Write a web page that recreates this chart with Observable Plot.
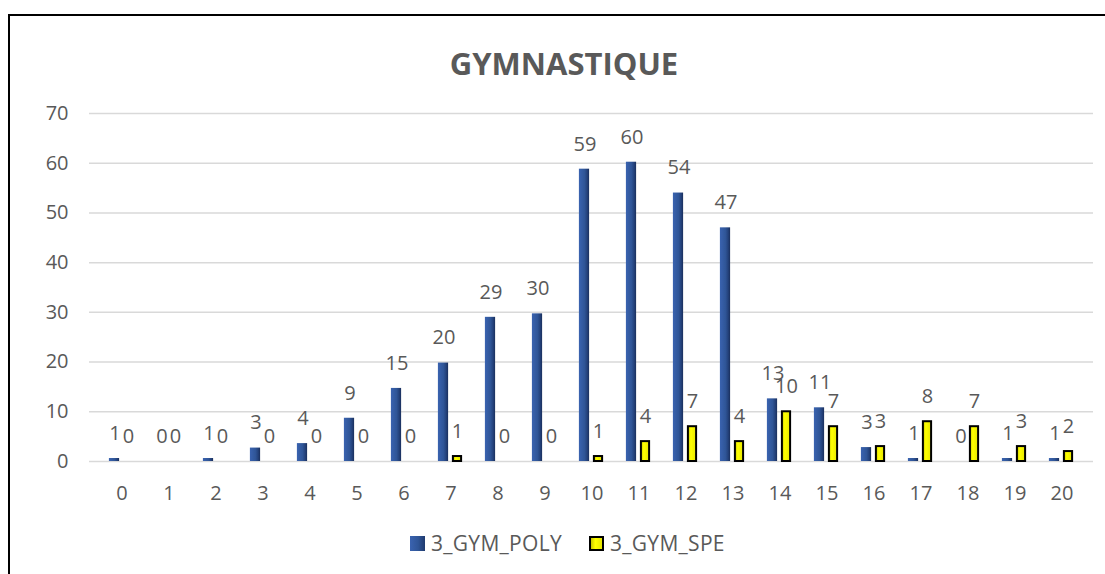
<!DOCTYPE html>
<html>
<head>
<meta charset="utf-8">
<script src="https://cdn.jsdelivr.net/npm/d3@7"></script>
<script src="https://cdn.jsdelivr.net/npm/@observablehq/plot@0.6"></script>
<style>
  html, body { margin: 0; padding: 0; background: #fff; }
  body { width: 1105px; height: 574px; overflow: hidden; position: relative; font-family: "Open Sans", sans-serif; }
  #frame { position: absolute; left: 8px; top: 14px; width: 1200px; height: 700px; border: 2px solid #000; box-sizing: border-box; }
  #title { position: absolute; left: 0; width: 1128px; top: 43px; text-align: center; font-weight: 700; font-size: 31px; line-height: 40px; color: #595959; }
  #chart { position: absolute; left: 0; top: 90px; }
  #legend { position: absolute; left: 410px; top: 530px; height: 26px; display: flex; align-items: center; font-size: 21px; letter-spacing: 0.3px; color: #595959; }
  .item { display: flex; align-items: center; }
  .item.first { width: 179px; }
  .sw { width: 15px; height: 15px; margin-right: 6px; box-sizing: border-box; }
  .sw.poly { background: linear-gradient(90deg, #3A63B0 0%, #2F5597 55%, #1F3A6E 100%); }
  .sw.spe { background: linear-gradient(90deg, #C8C800 0%, #FFFF00 40%, #E6E600 100%); border: 2px solid #000; }
</style>
</head>
<body>
<div id="frame"></div>
<div id="title">GYMNASTIQUE</div>
<div id="chart"></div>
<div id="legend"></div>
<script>
const categories = [0,1,2,3,4,5,6,7,8,9,10,11,12,13,14,15,16,17,18,19,20];
const polyValues = [0.6,0,0.6,2.7,3.6,8.7,14.7,19.8,29,29.7,58.8,60.2,54,47,12.6,10.8,2.8,0.6,0,0.6,0.6];
const speValues  = [0,0,0,0,0,0,0,1,0,0,1,4,7,4,10,7,3,8,7,3,2];
const seriesNames = ["3_GYM_POLY", "3_GYM_SPE"];
const yTicks = [0,10,20,30,40,50,60,70];

const polyRows = categories.map((c, i) => ({cat: c, series: seriesNames[0], value: polyValues[i]}));
const speRows = categories.map((c, i) => ({cat: c, series: seriesNames[1], value: speValues[i]}));

const textColor = "#595959";

const chart = Plot.plot({
  width: 1105,
  height: 430,
  marginTop: 23,
  marginBottom: 59,
  marginLeft: 89,
  marginRight: 12,
  style: {fontFamily: "Open Sans", fontSize: "20px", color: textColor, background: "transparent"},
  x: {type: "band", domain: categories, padding: 0, tickSize: 0, tickPadding: 24, label: null},
  y: {domain: [0, 70], ticks: yTicks, tickSize: 0, tickPadding: 21, label: null},
  marks: [
    Plot.ruleY(yTicks, {stroke: "#d9d9d9", strokeWidth: 1.5}),
    Plot.barY(polyRows.filter(d => d.value > 0), {x: "cat", y: "value", fill: "url(#gPoly)", insetLeft: 10.9, insetRight: 25.9}),
    Plot.barY(speRows.filter(d => d.value > 0), {x: "cat", y: "value", fill: "url(#gSpe)", stroke: "#000", strokeWidth: 2, insetLeft: 25.9, insetRight: 12.9}),
    Plot.text(polyRows, {x: "cat", y: "value", text: d => String(Math.round(d.value)), dx: -7, dy: -25, fill: textColor, lineAnchor: "middle"}),
    Plot.text(speRows, {x: "cat", y: "value", text: d => String(Math.round(d.value)), dx: 6.5, dy: -25, fill: textColor, lineAnchor: "middle"})
  ]
});

const defs = d3.select(chart).insert("defs", ":first-child");
const gp = defs.append("linearGradient").attr("id", "gPoly").attr("x1", "0").attr("x2", "1").attr("y1", "0").attr("y2", "0");
gp.append("stop").attr("offset", "0%").attr("stop-color", "#3A63B0");
gp.append("stop").attr("offset", "55%").attr("stop-color", "#2F5597");
gp.append("stop").attr("offset", "80%").attr("stop-color", "#24427C");
gp.append("stop").attr("offset", "100%").attr("stop-color", "#1A2F5C");
const gs = defs.append("linearGradient").attr("id", "gSpe").attr("x1", "0").attr("x2", "1").attr("y1", "0").attr("y2", "0");
gs.append("stop").attr("offset", "0%").attr("stop-color", "#C8C800");
gs.append("stop").attr("offset", "35%").attr("stop-color", "#FFFF00");
gs.append("stop").attr("offset", "100%").attr("stop-color", "#E6E600");

document.getElementById("chart").appendChild(chart);

const legend = document.getElementById("legend");
seriesNames.forEach((name, i) => {
  const item = document.createElement("div");
  item.className = "item" + (i === 0 ? " first" : "");
  const sw = document.createElement("div");
  sw.className = "sw " + (i === 0 ? "poly" : "spe");
  const label = document.createElement("span");
  label.textContent = name;
  item.appendChild(sw);
  item.appendChild(label);
  legend.appendChild(item);
});
</script>
</body>
</html>
